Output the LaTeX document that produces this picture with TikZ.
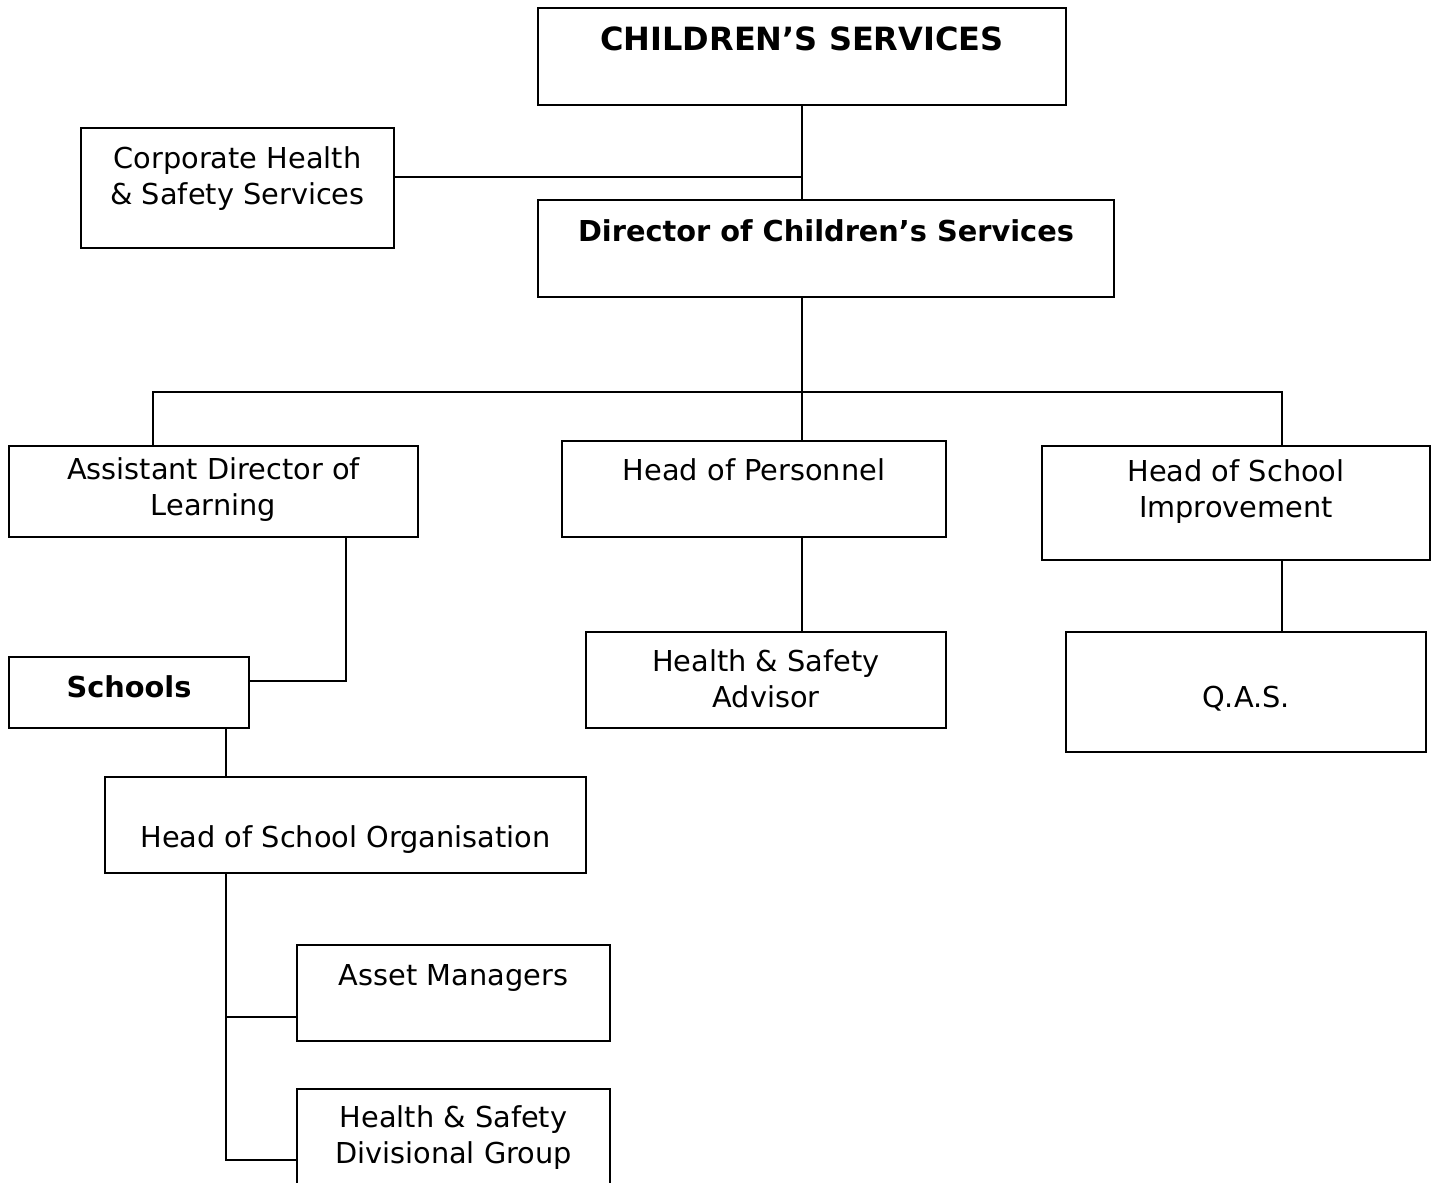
\documentclass[tikz,border=0pt]{standalone}
\usepackage{fontspec}
\setmainfont{DejaVu Sans}

\tikzset{
  unit/.style={draw, line width=1.25pt, inner sep=0pt, outer sep=0pt},
  lbl/.style={anchor=base, align=center, inner sep=0pt,
    font=\fontsize{14.4}{17.75}\selectfont},
  blbl/.style={lbl, font=\fontsize{14.4}{17.75}\selectfont\bfseries},
  link/.style={line width=1.25pt},
}

\begin{document}
\begin{tikzpicture}[x=0.5pt,y=-0.5pt]
  \useasboundingbox (0,0) rectangle (1431,1183);
  \clip (0,0) rectangle (1431,1183);

  % boxes
  \node[unit, minimum width=264pt, minimum height=48.5pt] (cs) at (802,56.5) {};
  \node[unit, minimum width=156.5pt, minimum height=60pt] (corp) at (237.5,188) {};
  \node[unit, minimum width=288pt, minimum height=48.5pt] (dir) at (826,248.5) {};
  \node[unit, minimum width=204.5pt, minimum height=45.5pt] (adl) at (213.5,491.5) {};
  \node[unit, minimum width=192pt, minimum height=48pt] (hop) at (754,489) {};
  \node[unit, minimum width=194pt, minimum height=57pt] (hsi) at (1236,503) {};
  \node[unit, minimum width=180pt, minimum height=48pt] (hsa) at (766,680) {};
  \node[unit, minimum width=180pt, minimum height=60pt] (qas) at (1246,692) {};
  \node[unit, minimum width=120pt, minimum height=35.5pt] (sch) at (129,692.5) {};
  \node[unit, minimum width=240.5pt, minimum height=48pt] (hso) at (345.5,825) {};
  \node[unit, minimum width=156.5pt, minimum height=48pt] (am) at (453.5,993) {};
  \node[unit, minimum width=156.5pt, minimum height=48.5pt] (hsdg) at (453.5,1137.5) {};

  % texts (base = last line)
  \node[lbl, font=\fontsize{16}{19}\selectfont\bfseries] (cs-t) at (802,50) {CHILDREN’S SERVICES};
  \node[lbl] (corp-t) at (237.5,204) {Corporate Health\\\& Safety Services};
  \node[blbl] (dir-t) at (826,241) {Director of Children’s Services};
  \node[lbl] (adl-t) at (213.5,515) {Assistant Director of\\Learning};
  \node[lbl] (hop-t) at (754,480) {Head of Personnel};
  \node[lbl] (hsi-t) at (1236,517) {Head of School\\Improvement};
  \node[lbl] (hsa-t) at (766,707) {Health \& Safety\\Advisor};
  \node[lbl] (qas-t) at (1246,707) {Q.A.S.};
  \node[blbl] (sch-t) at (129,697) {Schools};
  \node[lbl] (hso-t) at (345.5,847) {Head of School Organisation};
  \node[lbl] (am-t) at (453.5,985) {Asset Managers};
  \node[lbl] (hsdg-t) at (453.5,1163) {Health \& Safety\\Divisional Group};

  % junction points
  \coordinate (bus) at (802,392);
  \coordinate (busL) at (153,392);
  \coordinate (busR) at (1282,392);
  \coordinate (kink) at (346,681);
  \coordinate (spine) at (226,1160);
  \coordinate (amTap) at (226,1017);

  % connectors
  \draw[link] (cs.south) -- (cs.south |- dir.north);
  \draw[link] ([yshift=5.5pt]corp.east) -- ([yshift=5.5pt]corp.east -| cs.south);
  \draw[link] (bus |- dir.south) -- (bus |- hop.north);
  \draw[link] (busL |- adl.north) -- (busL) -- (busR) -- (busR |- hsi.north);
  \draw[link] (bus |- hop.south) -- (bus |- hsa.north);
  \draw[link] (busR |- hsi.south) -- (busR |- qas.north);
  \draw[link] (kink |- adl.south) -- (kink) -- (kink -| sch.east);
  \draw[link] (spine |- sch.south) -- (spine |- hso.north);
  \draw[link] (spine |- hso.south) -- (spine) -- (spine -| hsdg.west);
  \draw[link] (amTap) -- (amTap -| am.west);
\end{tikzpicture}
\end{document}
